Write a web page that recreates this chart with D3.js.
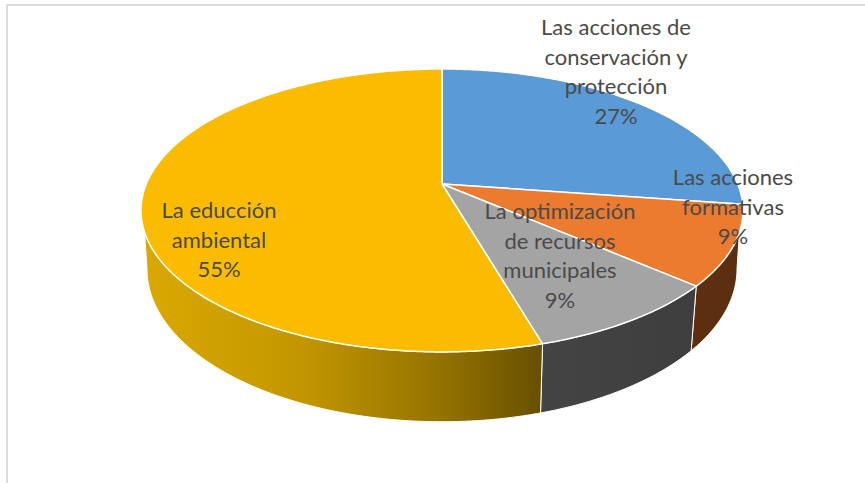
<!DOCTYPE html>
<html>
<head>
<meta charset="utf-8">
<script src="https://cdn.jsdelivr.net/npm/d3@7"></script>
<style>
  html, body { margin: 0; padding: 0; background: #fff; }
  svg { display: block; }
</style>
</head>
<body>
<div id="chart"></div>
<script>
// slices in clockwise order starting at 12 o'clock
const categories = [
    "Las acciones de conservación y protección",
    "Las acciones formativas",
    "La optimización de recursos municipales",
    "La educción ambiental"
];
const values = [27.3, 9.1, 9.1, 54.5];
const percentLabels = ["27%", "9%", "9%", "55%"];
const labelLines = [
    ["Las acciones de", "conservación y", "protección"],
    ["Las acciones", "formativas"],
    ["La optimización", "de recursos", "municipales"],
    ["La educción", "ambiental"]
];
const topColors = ["#5A9AD6", "#EB7B2F", "#A4A4A4", "#FBBC00"];

const width = 865, height = 483;
const cx = 442;

// label anchor: centre x and first baseline
const labelPos = [
    { x: 616, y: 35 },
    { x: 733, y: 185 },
    { x: 560, y: 219 },
    { x: 219, y: 218 }
];
const lineHeight = 29.5;

const svg = d3.select("#chart")
    .append("svg")
    .attr("width", width)
    .attr("height", height);

const defs = svg.append("defs");

function addGradient(id, x1, x2, stops) {
    const g = defs.append("linearGradient")
        .attr("id", id)
        .attr("gradientUnits", "userSpaceOnUse")
        .attr("x1", x1).attr("x2", x2)
        .attr("y1", 0).attr("y2", 0);
    stops.forEach(s => g.append("stop").attr("offset", s[0]).attr("stop-color", s[1]));
}
addGradient("wall1", 691, 741, [[0, "#5E3010"], [1, "#5A2E10"]]);
addGradient("wall2", 541, 691, [[0, "#444444"], [1, "#3E3E3E"]]);
addGradient("wall3", 147, 541, [[0, "#D9A800"], [0.4, "#C29600"], [0.75, "#937200"], [1, "#685000"]]);
const wallFill = [null, "url(#wall1)", "url(#wall2)", "url(#wall3)"];

// frame of the pasted chart
svg.append("path")
    .attr("d", "M7,483V5H865")
    .attr("fill", "none")
    .attr("stroke", "#DCDCDC")
    .attr("stroke-width", 2);

// perspective projection of the pie disc onto the top face
const persp = -0.187;
function topPoint(a) {
    const u = Math.sin(a), v = -Math.cos(a);
    const den = persp * v + 1;
    return [cx + 295.7 * u / den, (102.1 * v + 184) / den];
}
// the rim at the bottom of the wall is the same ellipse, shifted and scaled
function bottomPoint(a) {
    const p = topPoint(a);
    return [cx + (p[0] - cx) * 0.98, 269 + (p[1] - 210.5) * 1.08];
}
function rim(fn, a0, a1) {
    const n = Math.max(2, Math.ceil(Math.abs(a1 - a0) / 0.01));
    return d3.range(n + 1).map(i => fn(a0 + (a1 - a0) * i / n));
}

const rad = d => d * Math.PI / 180;
// visible part of the wall, silhouette angles
const topRange = [rad(109.3), rad(250.7)];
const bottomRange = [rad(100.8), rad(259.2)];

const arcs = d3.pie().sort(null).value(d => d)(values);
const line = d3.line();

// walls first
const walls = arcs.map((d, i) => {
    const t0 = Math.max(d.startAngle, topRange[0]), t1 = Math.min(d.endAngle, topRange[1]);
    const b0 = Math.max(d.startAngle, bottomRange[0]), b1 = Math.min(d.endAngle, bottomRange[1]);
    if (t1 <= t0) return null;
    return { i, pts: rim(topPoint, t0, t1).concat(rim(bottomPoint, b1, b0)) };
}).filter(d => d);

svg.selectAll(".wall")
    .data(walls)
    .enter()
    .append("path")
    .attr("class", "wall")
    .attr("d", d => line(d.pts) + "Z")
    .attr("fill", d => wallFill[d.i])
    .attr("stroke", "#fff")
    .attr("stroke-width", 1)
    .attr("stroke-linejoin", "round");

// top face
const apex = [cx, 184];
svg.selectAll(".slice")
    .data(arcs)
    .enter()
    .append("path")
    .attr("class", "slice")
    .attr("d", d => line([apex].concat(rim(topPoint, d.startAngle, d.endAngle))) + "Z")
    .attr("fill", (d, i) => topColors[i])
    .attr("stroke", "#fff")
    .attr("stroke-width", 1.5)
    .attr("stroke-linejoin", "round");

// labels
const labels = svg.selectAll(".label")
    .data(categories)
    .enter()
    .append("text")
    .attr("class", "label")
    .attr("aria-label", d => d)
    .attr("text-anchor", "middle")
    .style("font-family", "Lato, 'Open Sans', sans-serif")
    .style("font-size", "22px")
    .style("fill", "#4A4A4A");

labels.each(function (d, i) {
    const t = d3.select(this);
    labelLines[i].concat(percentLabels[i]).forEach((s, j) => {
        t.append("tspan")
            .attr("x", labelPos[i].x)
            .attr("y", labelPos[i].y + j * lineHeight)
            .text(s);
    });
});
</script>
</body>
</html>
